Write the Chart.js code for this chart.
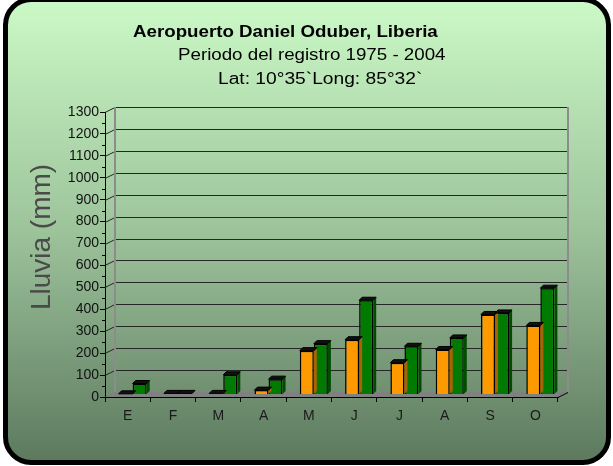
<!DOCTYPE html>
<html>
<head>
<meta charset="utf-8">
<script src="https://cdn.jsdelivr.net/npm/chart.js@4.4.0/dist/chart.umd.min.js"></script>
<style>
html, body { margin: 0; padding: 0; background: #fff; overflow: hidden; }
#marco {
    position: absolute; left: 3px; top: -3px; width: 598px; height: 458px;
    border: 5px solid #000; border-radius: 28px;
    background: linear-gradient(to bottom, #cbf9c6 0%, #9dc39b 50%, #5d7a5f 100%);
}
#grafico { position: absolute; left: 0; top: 0; }
</style>
</head>
<body>
<div id="marco"></div>
<canvas id="grafico" width="613" height="466"></canvas>
<script>
// Meses (enero a octubre)
const meses = ['E', 'F', 'M', 'A', 'M', 'J', 'J', 'A', 'S', 'O'];
// Lluvia en mm
const lluviaNaranja = [3, 5, 5, 20, 200, 250, 145, 205, 365, 315];
const lluviaVerde = [50, 5, 90, 70, 232, 430, 220, 258, 372, 485];
// Eje Y
const ejeMin = 0;
const ejeMax = 1300;
const ejePaso = 100;
// Textos
const titulos = ['Aeropuerto Daniel Oduber, Liberia', 'Periodo del registro 1975 - 2004', 'Lat: 10°35`Long: 85°32`'];
const tituloEje = 'Lluvia (mm)';

const fuente = "'Liberation Sans', Arial, sans-serif";
const prof = { dx: 10, dy: 5 }; // profundidad del efecto 3D

// texto estirado a lo ancho (la imagen original está estirada)
function textoAncho(ctx, txt, x, y, escala) {
    ctx.save();
    ctx.translate(x, y);
    ctx.scale(escala, 1);
    ctx.fillText(txt, 0, 0);
    ctx.restore();
}

// Plugin para pared del fondo, piso y tapas de las barras
const efecto3d = {
    id: 'efecto3d',
    beforeDatasetsDraw(chart) {
        const { ctx, chartArea: a, scales: { y } } = chart;
        ctx.save();
        // piso gris
        ctx.fillStyle = '#808080';
        ctx.beginPath();
        ctx.moveTo(a.left, a.bottom);
        ctx.lineTo(a.left + prof.dx, a.bottom - prof.dy);
        ctx.lineTo(a.right + prof.dx, a.bottom - prof.dy);
        ctx.lineTo(a.right, a.bottom);
        ctx.closePath();
        ctx.fill();
        // líneas de la pared del fondo
        ctx.lineWidth = 1;
        for (let v = ejeMin + ejePaso; v <= ejeMax; v += ejePaso) {
            const py = Math.round(y.getPixelForValue(v)) + 0.5;
            ctx.strokeStyle = '#262626';
            ctx.beginPath();
            ctx.moveTo(a.left + prof.dx, py - prof.dy);
            ctx.lineTo(a.right + prof.dx, py - prof.dy);
            ctx.stroke();
            ctx.beginPath();
            ctx.moveTo(a.left, py);
            ctx.lineTo(a.left + prof.dx, py - prof.dy);
            ctx.stroke();
        }
        // ticks menores cada 50
        ctx.strokeStyle = '#000';
        for (let v = ejeMin + ejePaso / 2; v < ejeMax; v += ejePaso) {
            const py = Math.round(y.getPixelForValue(v)) + 0.5;
            ctx.beginPath();
            ctx.moveTo(a.left - 3, py);
            ctx.lineTo(a.left, py);
            ctx.stroke();
        }
        // bordes de la pared
        ctx.strokeStyle = '#8c8c8c';
        ctx.lineWidth = 2;
        ctx.beginPath();
        ctx.moveTo(a.left + prof.dx, a.top - prof.dy);
        ctx.lineTo(a.left + prof.dx, a.bottom - prof.dy);
        ctx.moveTo(a.right + prof.dx, a.top - prof.dy);
        ctx.lineTo(a.right + prof.dx, a.bottom - prof.dy);
        ctx.stroke();
        ctx.strokeStyle = '#000';
        ctx.lineWidth = 1;
        ctx.beginPath();
        ctx.moveTo(a.right, a.bottom + 0.5);
        ctx.lineTo(a.right + prof.dx, a.bottom - prof.dy + 0.5);
        ctx.stroke();
        ctx.restore();
        // barras a media profundidad
        ctx.save();
        ctx.translate(prof.dx / 2, -prof.dy / 2);
    },
    afterDatasetsDraw(chart) {
        const { ctx } = chart;
        const colores = ['#a86400', '#004d00'];
        chart.data.datasets.forEach((ds, i) => {
            chart.getDatasetMeta(i).data.forEach(bar => {
                const { x, y, width, base } = bar.getProps(['x', 'y', 'width', 'base'], true);
                const l = x - width / 2, r = x + width / 2;
                ctx.fillStyle = colores[i];
                ctx.beginPath();
                ctx.moveTo(r, y); ctx.lineTo(r + 3, y - 3); ctx.lineTo(r + 3, base - 3); ctx.lineTo(r, base);
                ctx.closePath(); ctx.fill();
                ctx.fillStyle = '#111';
                ctx.beginPath();
                ctx.moveTo(l, y); ctx.lineTo(l + 3, y - 3); ctx.lineTo(r + 3, y - 3); ctx.lineTo(r, y);
                ctx.closePath(); ctx.fill();
                ctx.strokeStyle = '#000'; ctx.lineWidth = 1;
                ctx.stroke();
            });
        });
        ctx.restore();
    },
    afterDraw(chart) {
        const { ctx } = chart;
        ctx.save();
        ctx.fillStyle = '#000';
        ctx.textBaseline = 'middle';
        ctx.textAlign = 'left';
        ctx.font = 'bold 16px ' + fuente;
        textoAncho(ctx, titulos[0], 133, 33, 1.17);
        ctx.font = '16px ' + fuente;
        textoAncho(ctx, titulos[1], 178, 56, 1.17);
        textoAncho(ctx, titulos[2], 218, 80, 1.2);
        // título del eje Y
        ctx.translate(42, 237);
        ctx.rotate(-Math.PI / 2);
        ctx.textAlign = 'center';
        ctx.fillStyle = '#4a4a4a';
        ctx.font = '28px ' + fuente;
        ctx.fillText(tituloEje, 0, 0);
        ctx.restore();
    }
};

let chart;
function initGrafico() {
    const ctx = document.getElementById('grafico').getContext('2d');
    chart = new Chart(ctx, {
        type: 'bar',
        data: {
            labels: meses,
            datasets: [{
                label: 'Serie 1',
                data: lluviaNaranja,
                backgroundColor: '#ff9900',
                borderColor: '#000',
                borderWidth: 1.5
            }, {
                label: 'Serie 2',
                data: lluviaVerde,
                backgroundColor: '#007a00',
                borderColor: '#000',
                borderWidth: 1.5
            }]
        },
        options: {
            responsive: false,
            animation: false,
            layout: { padding: { top: 112, right: 55, left: 0, bottom: 0 } },
            categoryPercentage: 0.62,
            barPercentage: 1.0,
            plugins: { legend: { display: false }, tooltip: { enabled: false } },
            scales: {
                x: {
                    afterFit: s => { s.height = 69; },
                    grid: { drawOnChartArea: false, tickLength: 5, color: '#000' },
                    border: { color: '#000', width: 1 },
                    ticks: { color: '#1a1a1a', padding: 6, font: { family: fuente, size: 14 } }
                },
                y: {
                    min: ejeMin, max: ejeMax,
                    afterFit: s => { s.width = 105; },
                    grid: { drawOnChartArea: false, tickLength: 5, color: '#000' },
                    border: { color: '#000', width: 1 },
                    ticks: {
                        stepSize: ejePaso, color: '#111', padding: 1,
                        font: { family: fuente, size: 14 },
                        callback: v => String(v)
                    }
                }
            }
        },
        plugins: [efecto3d]
    });
}

window.onload = function() {
    initGrafico();
};
</script>
</body>
</html>
